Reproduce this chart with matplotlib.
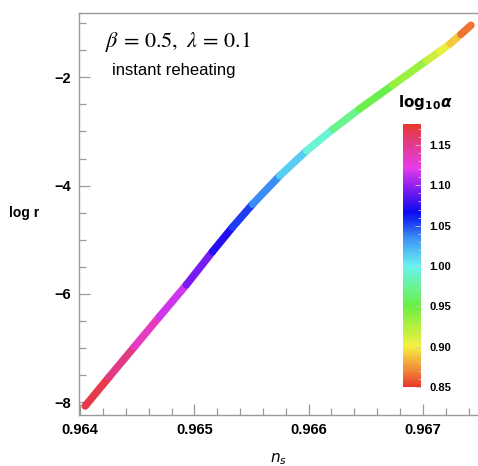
import numpy as np
import matplotlib
matplotlib.use("Agg")
import matplotlib.pyplot as plt
from matplotlib.collections import LineCollection
from matplotlib.colors import LinearSegmentedColormap, Normalize
from matplotlib.ticker import MultipleLocator, FixedLocator

# ---- data ----
ns = [0.964044, 0.964254, 0.964474, 0.964693, 0.964930, 0.965158,
      0.965333, 0.965509, 0.965746, 0.965982, 0.966211, 0.966447,
      0.966737, 0.967035, 0.967149, 0.967237, 0.967333, 0.967421]
log_r = [-8.074, -7.537, -6.981, -6.426, -5.833, -5.222,
         -4.770, -4.344, -3.820, -3.356, -2.961, -2.581,
         -2.141, -1.687, -1.519, -1.380, -1.204, -1.037]
log10_alpha = [1.176, 1.160, 1.145, 1.125, 1.105, 1.082,
               1.063, 1.046, 1.025, 1.002, 0.982, 0.962,
               0.945, 0.922, 0.912, 0.900, 0.878, 0.855]

x_ticks = [0.964, 0.965, 0.966, 0.967]
y_ticks = [-8, -6, -4, -2]
cb_ticks = [0.85, 0.90, 0.95, 1.00, 1.05, 1.10, 1.15]
vmin, vmax = 0.85, 1.176

# colormap anchors (value, colour) - hue-like rainbow
cmap_vals = [0.85, 0.875, 0.90, 0.95, 1.00, 1.035, 1.066, 1.095, 1.122, 1.15, 1.176]
cmap_cols = ["#e8382c", "#f09a3a", "#f7f040", "#6af040", "#6af4f0", "#3c8ef5",
             "#0a0af0", "#7a1cf0", "#e83ce8", "#e23a90", "#e8382c"]

plt.rcParams['font.family'] = ['Liberation Sans', 'DejaVu Sans']

pos = [(v - vmin) / (vmax - vmin) for v in cmap_vals]
cmap = LinearSegmentedColormap.from_list("hue", list(zip(pos, cmap_cols)))
norm = Normalize(vmin=vmin, vmax=vmax)

fig = plt.figure(figsize=(4.78, 4.66), dpi=100)
ax = fig.add_axes([79/478, 51/466, 398/478, 402/466])

pts = np.column_stack([ns, log_r])
segs = np.stack([pts[:-1], pts[1:]], axis=1)
mid = 0.5 * (np.array(log10_alpha[:-1]) + np.array(log10_alpha[1:]))
lc = LineCollection(segs, cmap=cmap, norm=norm, linewidths=5.4, capstyle='round',
                    joinstyle='round')
lc.set_array(mid)
ax.add_collection(lc)

ax.set_xlim(0.96399, 0.967474)
ax.set_ylim(-8.24, -0.81)

gray = '#9a9a9a'
for s in ['left', 'bottom', 'top']:
    ax.spines[s].set_color(gray)
    ax.spines[s].set_linewidth(1.0)
ax.spines['right'].set_visible(False)

ax.xaxis.set_major_locator(FixedLocator(x_ticks))
ax.xaxis.set_minor_locator(MultipleLocator(0.0002))
ax.yaxis.set_major_locator(FixedLocator(y_ticks))
ax.yaxis.set_minor_locator(MultipleLocator(0.5))
ax.set_xticklabels([f"{v:.3f}" for v in x_ticks])
ax.set_yticklabels([f"\u2212{abs(v)}" for v in y_ticks])
ax.tick_params(which='both', direction='in', color=gray, width=0.9,
               top=False, right=False)
ax.tick_params(which='major', length=8, labelsize=10.5, pad=6)
ax.tick_params(which='minor', length=5)
for lab in ax.get_xticklabels() + ax.get_yticklabels():
    lab.set_fontweight('bold')

fig.text(24/478, 1 - 213/466, "log r", fontsize=10, fontweight='bold',
         ha='center', va='center')
fig.text(278/478, 1 - 459/466, r"$n_s$", fontsize=11, ha='center', va='center',
         math_fontfamily='dejavusans')

fig.text(178/478, 1 - 42/466, r"$\beta\, =\, 0.5,\ \lambda\, =\, 0.1$", fontsize=16,
         ha='center', va='center', math_fontfamily='stix')
fig.text(174/478, 1 - 71/466, "instant reheating", fontsize=12,
         ha='center', va='center')

# colorbar
cax = fig.add_axes([403/478, 1 - 387/466, 18/478, 263/466])
sm = plt.cm.ScalarMappable(cmap=cmap, norm=norm)
cb = fig.colorbar(sm, cax=cax)
cb.outline.set_visible(False)
cb.set_ticks(cb_ticks)
cb.set_ticklabels([f"{v:.2f}" for v in cb_ticks])
cax.yaxis.set_minor_locator(MultipleLocator(0.01))
cax.tick_params(which='both', direction='in', color='#cccccc', width=0.6)
cax.tick_params(which='major', length=4, labelsize=8, pad=6)
cax.tick_params(which='minor', length=2)
for lab in cax.get_yticklabels():
    lab.set_fontweight('bold')
fig.text(425/478, 1 - 103/466, r"$\mathbf{log}_{\mathbf{10}}\boldsymbol{\alpha}$",
         fontsize=11, ha='center', va='center', math_fontfamily='dejavusans')

fig.savefig("out.png", dpi=100)
